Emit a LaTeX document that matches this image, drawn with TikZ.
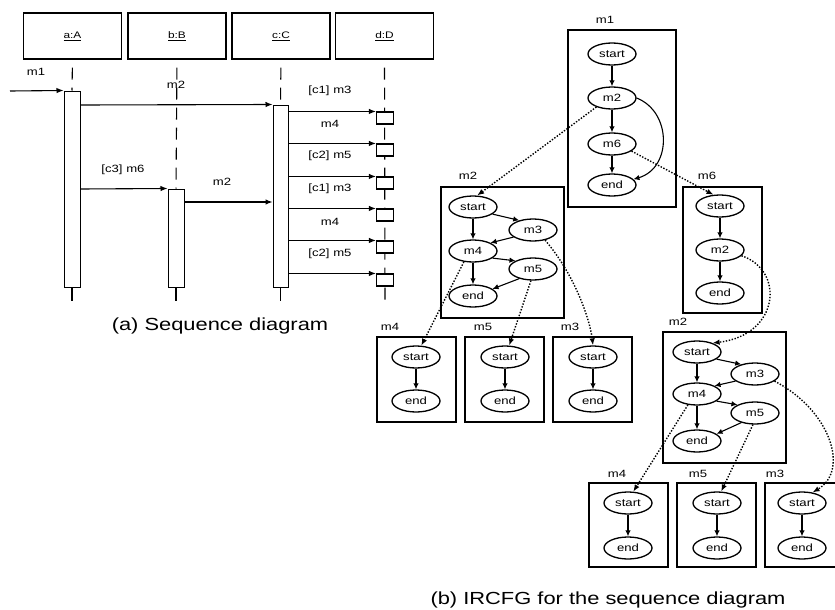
\documentclass[tikz,border=0pt]{standalone}
\usepackage{fontspec}
\setmainfont[FakeStretch=1.25]{Liberation Sans}
\usetikzlibrary{arrows.meta,shapes.geometric,calc}
\begin{document}
\begin{tikzpicture}[x=1pt,y=-1pt,
  hdr/.style={draw,line width=1.1pt,minimum width=98pt,minimum height=46pt,inner sep=0pt,font=\fontsize{9.5}{10}\selectfont},
  act/.style={draw,fill=white,line width=1pt,minimum width=16pt,inner sep=0pt},
  dbox/.style={draw,fill=white,line width=1.1pt,minimum width=17pt,minimum height=12pt,inner sep=0pt},
  life/.style={line width=1.1pt,dash pattern=on 12pt off 8pt,dash phase=12pt},
  msg/.style={line width=1.1pt,-{Latex[length=7pt,width=5.5pt]}},
  lbl/.style={font=\fontsize{10.5}{11}\selectfont,inner sep=1pt},
  frame/.style={draw,line width=1.5pt},
  st/.style={draw,ellipse,line width=1.3pt,minimum width=48pt,minimum height=22pt,inner sep=0pt,font=\fontsize{10.5}{11}\selectfont,fill=white},
  cf/.style={line width=1.1pt,-{Latex[length=6pt,width=5.5pt]}},
  dt/.style={line width=1.4pt,dash pattern=on 1.4pt off 1.6pt,-{Latex[length=7pt,width=5.5pt]}},
  captxt/.style={font=\fontsize{17.5}{20}\selectfont}]
\useasboundingbox (0,0) rectangle (835,610);
% ---------------- sequence diagram ----------------
\node[hdr] (hA) at (72.5,36) {\underline{a:A}};
\node[hdr] (hB) at (177,36) {\underline{b:B}};
\node[hdr] (hC) at (281,36) {\underline{c:C}};
\node[hdr] (hD) at (384.5,36) {\underline{d:D}};
\node[act,minimum height=196pt] (aA) at (72,189) {};
\node[act,minimum height=98pt] (aB) at (176,238) {};
\node[act,minimum width=15pt,minimum height=182pt] (aC) at (280.5,196) {};
% lifelines
\draw[life] (hA.south) -- (aA.north);
\draw[life] (hB.south) -- (aB.north);
\draw[life] (hC.south) -- (aC.north);
\draw[line width=1.1pt] (aA.south) -- ++(0,13) coordinate (eA);
\draw[line width=1.1pt] (aB.south) -- ++(0,13) coordinate (eB);
\draw[line width=1.1pt] (aC.south) -- ++(0,13) coordinate (eC);
\coordinate (eD) at (385,300);
\draw[life] (hD.south) -- (eD);
% d activation boxes
\foreach \i/\yy in {1/112,2/144,3/177,4/209,5/241,6/274}{
  \node[dbox] (d\i) at (385,\yy+6) {};
}
% messages
\coordinate (m1s) at (10,91);
\draw[msg] (m1s) -- (aA.north west);
\node[lbl] (lm1) at (36,72) {m1};
\draw[msg] (aA.east |- 0,105) -- (aC.north west);
\node[lbl] (lm2a) at (176,85) {m2};
\draw[msg] (aA.east |- 0,189) -- (aB.north west);
\node[lbl] (lm6) at (123,170) {[c3] m6};
\draw[msg] (aB.east |- 0,202) -- (aC.west |- 0,202);
\node[lbl] (lm2b) at (222,182) {m2};
\foreach \i/\t/\ly in {1/{[c1] m3}/91,2/{m4}/124,3/{[c2] m5}/156,4/{[c1] m3}/189,5/{m4}/222,6/{[c2] m5}/254}{
  \draw[msg] (aC.east |- d\i.north west) -- (d\i.north west);
  \node[lbl] at (330,\ly) {\t};
}
\node[captxt] (capa) at (220,326) {(a) Sequence diagram};
% ---------------- IRCFG ----------------
% m1
\draw[frame] (568,30) rectangle (676,207);
\node[lbl] at (605,20) {m1};
\node[st] (s1) at (612,54) {start};
\node[st] (a1) at (612,98) {m2};
\node[st] (b1) at (612,144) {m6};
\node[st] (e1) at (612,185) {end};
\draw[cf] (s1) -- (a1);
\draw[cf] (a1) -- (b1);
\draw[cf] (b1) -- (e1);
\draw[cf] (a1.east) .. controls (672,112) and (672,168) .. (e1.15);
% m2 (first)
\draw[frame] (441,187) rectangle (564,318);
\node[lbl] at (468,176) {m2};
\node[st] (s2) at (473,207) {start};
\node[st] (c2) at (533,230) {m3};
\node[st] (d2) at (473,251) {m4};
\node[st] (f2) at (533,269) {m5};
\node[st] (e2) at (473,296) {end};
\draw[cf] (s2) -- (d2);
\draw[cf] (s2.-20) -- (c2.145);
\draw[cf] (c2.200) -- (d2.25);
\draw[cf] (d2.-20) -- (f2.155);
\draw[cf] (f2.215) -- (e2.20);
\draw[cf] (d2) -- (e2);
% m6
\draw[frame] (683,187) rectangle (762,313);
\node[lbl] at (707,176) {m6};
\node[st] (s3) at (720,206) {start};
\node[st] (a3) at (720,250) {m2};
\node[st] (e3) at (720,293) {end};
\draw[cf] (s3) -- (a3);
\draw[cf] (a3) -- (e3);
% row of m4 m5 m3
\foreach \n/\xl/\xc in {4/377/416,5/465/505,3/553/593}{
  \draw[frame] (\xl,337) rectangle (\xl+79,422);
  \node[st] (rs\n) at (\xc,357) {start};
  \node[st] (re\n) at (\xc,401) {end};
  \draw[cf] (rs\n) -- (re\n);
}
\node[lbl] at (390,327) {m4};
\node[lbl] at (483,327) {m5};
\node[lbl] at (570,327) {m3};
% m2 (second)
\draw[frame] (663,332) rectangle (786,463);
\node[lbl] at (678,322) {m2};
\node[st] (s5) at (697,352) {start};
\node[st] (c5) at (755,374) {m3};
\node[st] (d5) at (697,394) {m4};
\node[st] (f5) at (755,413) {m5};
\node[st] (e5) at (697,441) {end};
\draw[cf] (s5) -- (d5);
\draw[cf] (s5.-20) -- (c5.145);
\draw[cf] (c5.200) -- (d5.25);
\draw[cf] (d5.-20) -- (f5.155);
\draw[cf] (f5.215) -- (e5.20);
\draw[cf] (d5) -- (e5);
% bottom row
\foreach \n/\xl/\xc in {4/589/628,5/677/717,3/765/802}{
  \draw[frame] (\xl,483) rectangle (\xl+79,567);
  \node[st] (bs\n) at (\xc,503) {start};
  \node[st] (be\n) at (\xc,548) {end};
  \draw[cf] (bs\n) -- (be\n);
}
\node[lbl] at (617,474) {m4};
\node[lbl] at (698,474) {m5};
\node[lbl] at (775,474) {m3};
% dotted call links
\draw[dt] (a1.210) -- (s2.70);
\draw[dt] (b1.-20) -- (s3.120);
\draw[dt] (a3.-15) .. controls (785,270) and (780,335) .. (s5.30);
\draw[dt] (d2.230) -- (rs4.65);
\draw[dt] (f2.260) -- (rs5.70);
\draw[dt] (c2.-40) .. controls (575,275) and (590,320) .. (rs3.90);
\draw[dt] (d5.230) -- (bs4.65);
\draw[dt] (f5.260) -- (bs5.70);
\draw[dt] (c5.-20) .. controls (830,410) and (850,470) .. (bs3.45);
\node[captxt] (capb) at (608,600) {(b) IRCFG for the sequence diagram};
\end{tikzpicture}
\end{document}
